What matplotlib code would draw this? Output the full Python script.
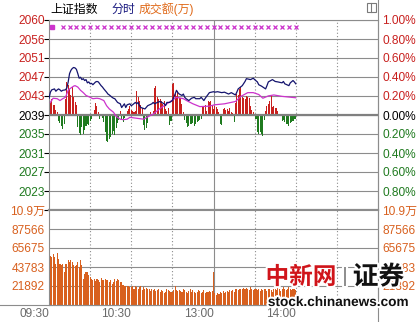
import matplotlib
matplotlib.use('Agg')
import matplotlib.pyplot as plt
import numpy as np
from matplotlib.lines import Line2D
from matplotlib.patches import Rectangle
import matplotlib.patheffects as pe

plt.rcParams['font.family'] = ['Liberation Sans', 'Noto Sans CJK SC', 'DejaVu Sans']

# ---------------- data ----------------
prev_close = 2039.3

price_min = [0, 1, 2, 4, 5, 6, 7, 8, 9, 10,
             12, 13, 14, 15, 16, 17, 18, 19, 20, 21,
             22, 23, 24, 25, 26, 27, 28, 29, 30, 31,
             32, 33, 34, 35, 36, 37, 38, 39, 40, 42,
             43, 44, 46, 47, 48, 49, 50, 52, 53, 54,
             55, 56, 57, 59, 60, 61, 63, 64, 65, 66,
             67, 70, 72, 75, 76, 77, 79, 81, 84, 85,
             86, 88, 90, 91, 92, 93, 94, 95, 97, 98,
             99, 100, 102, 104, 106, 107, 110, 111, 113, 114,
             117, 120, 121, 123, 126, 128, 131, 133, 136, 137,
             138, 141, 143, 144, 147, 149, 150, 152, 153, 155,
             158, 159, 160, 163, 165, 167, 170, 171, 172, 175,
             176, 178, 179, 180]
price_val = [2042.9, 2044.2, 2044.7, 2044.9, 2044.4, 2044.7, 2044.9, 2044.7, 2044.4, 2044.6,
             2044.7, 2045.1, 2046.4, 2048.2, 2048.9, 2049.3, 2049.5, 2049.4, 2049.1, 2048.2,
             2047.2, 2047.4, 2046.9, 2047.1, 2046.7, 2046.9, 2046.2, 2046.4, 2046.0, 2046.1,
             2045.8, 2046.1, 2046.4, 2046.5, 2046.4, 2046.0, 2045.6, 2045.3, 2044.9, 2044.2,
             2043.8, 2043.6, 2043.1, 2042.9, 2042.8, 2042.4, 2042.0, 2041.7, 2040.9, 2041.3,
             2041.7, 2040.9, 2041.5, 2041.7, 2041.3, 2041.5, 2042.0, 2041.7, 2042.0, 2041.3,
             2040.9, 2040.6, 2041.3, 2041.7, 2042.0, 2041.7, 2042.0, 2042.2, 2041.7, 2041.3,
             2042.0, 2042.0, 2042.4, 2043.1, 2043.8, 2044.6, 2044.1, 2043.8, 2043.5, 2043.8,
             2043.1, 2042.8, 2042.4, 2042.9, 2043.1, 2042.8, 2042.8, 2043.1, 2042.4, 2042.9,
             2044.1, 2044.3, 2044.2, 2044.3, 2044.1, 2044.2, 2043.8, 2044.1, 2043.6, 2044.2,
             2044.9, 2045.6, 2046.5, 2047.1, 2046.9, 2047.2, 2046.9, 2046.4, 2045.8, 2045.5,
             2044.9, 2045.6, 2046.4, 2046.9, 2046.5, 2046.4, 2046.2, 2046.5, 2046.0, 2045.6,
             2046.2, 2046.7, 2046.4, 2046.0]

lead_min = [1, 3, 6, 8, 10, 12, 14, 15, 18, 19,
            21, 23, 25, 27, 30, 32, 35, 37, 40, 42,
            44, 47, 49, 52, 54, 57, 59, 64, 69, 72,
            76, 81, 86, 90, 93, 98, 101, 105, 110, 117,
            121, 128, 136, 140, 145, 149, 153, 156, 160, 164,
            170, 180]
lead_val = [2042.0, 2042.9, 2042.8, 2042.4, 2042.8, 2043.1, 2044.6, 2044.9, 2045.5, 2045.6,
            2045.3, 2044.6, 2044.1, 2043.5, 2043.1, 2042.8, 2042.9, 2042.8, 2042.4, 2041.3,
            2040.6, 2039.9, 2039.0, 2038.4, 2038.3, 2038.4, 2038.8, 2038.6, 2038.4, 2038.9,
            2039.5, 2040.7, 2041.7, 2042.5, 2043.1, 2042.8, 2042.3, 2041.7, 2041.1, 2041.2,
            2041.5, 2041.7, 2042.2, 2043.3, 2044.1, 2044.1, 2043.7, 2042.9, 2043.4, 2043.6,
            2043.3, 2043.0]

# buy/sell strength per minute (arbitrary units)
strength = [10, 12, 16, 10, 10, 5, 3, -6, -8, -11,
            -14, -9, 16, 33, 30, 26, 20, 28, 18, 13,
            10, -12, -18, -20, -12, -19, -15, -11, -9, -10,
            -6, -4, 0, 5, 12, 9, 3, -4, 0, -3,
            -7, -17, -26, -27, -24, -22, -19, -16, -20, -13,
            -8, -5, 4, -4, -7, -3, 0, 4, 6, 9,
            5, 4, 3, 4, 24, 18, 14, 10, 7, -10,
            -15, -13, -8, 0, 3, 0, 4, 27, 29, 18,
            16, 16, 14, 11, 14, 6, 4, 7, -10, -6,
            31, 32, 21, 19, 24, 17, 17, 11, 3, -5,
            -8, -12, -11, -9, -9, -8, -11, -9, -7, -6,
            -5, -4, 9, 8, 10, 4, 14, 13, 14, 10,
            6, 9, 8, 6, 3, -9, -10, 6, 7, 5,
            6, 4, 7, 3, 2, -7, 12, 21, 20, 26,
            28, 18, 17, 16, 19, 18, 17, 9, 5, 3,
            0, -4, -17, -19, -17, -19, -21, -5, 4, 9,
            11, 14, 19, 8, 9, 7, 7, 4, 0, 0,
            -6, -5, -7, -9, -9, -11, -8, -7, -6, -4, -4]

volume = [100900, 55960, 55200, 59000, 55200, 47600, 59800, 53300, 47600, 45700,
          47600, 38100, 47600, 46800, 51400, 49500, 51400, 49500, 45700, 44500,
          45700, 49500, 43800, 51400, 45700, 30500, 36200, 38100, 38100, 34300,
          32400, 30500, 29300, 30500, 27800, 30500, 29300, 26600, 31200, 29300,
          28600, 30500, 28600, 29300, 26600, 28600, 24700, 26600, 30500, 27800,
          30500, 28600, 26600, 26600, 22800, 21700, 21700, 21700, 21700, 20900,
          20200, 21700, 19000, 21700, 20200, 19000, 20900, 21700, 17100, 20200,
          18700, 19800, 17900, 19000, 16400, 17900, 17100, 17900, 16000, 17100,
          17900, 15200, 17100, 16400, 14100, 15200, 17900, 17100, 16000, 14900,
          15200, 17100, 21700, 17100, 16000, 17100, 16400, 15200, 17900, 17100,
          15200, 13300, 16000, 17900, 15200, 17100, 14500, 13300, 15200, 17100,
          16000, 14100, 15200, 17100, 14100, 14900, 15200, 15600, 15200, 16400,
          38100, 13300, 11400, 14100, 12600, 15200, 13300, 16000, 14100, 15200,
          16400, 14900, 17100, 15600, 17100, 15200, 17900, 18700, 17100, 19000,
          17900, 18700, 19400, 17900, 19800, 18700, 17100, 20200, 18700, 17100,
          19000, 18300, 17100, 17900, 16400, 18700, 17100, 19000, 17900, 16400,
          19000, 17900, 17100, 15200, 17900, 18700, 17100, 19400, 17900, 16400,
          18700, 20200, 17900, 17100, 18700, 20200, 17900, 17100, 18700, 17900, 17100]

marker_min = list(range(10, 181, 5))

pct_levels = [1.0, 0.8, 0.6, 0.4, 0.2, 0.0, -0.2, -0.4, -0.6, -0.8]
price_labels = ['2060', '2056', '2051', '2047', '2043', '2039', '2035', '2031', '2027', '2023']
pct_labels = ['1.00%', '0.80%', '0.60%', '0.40%', '0.20%', '0.00%', '0.20%', '0.40%', '0.60%', '0.80%']

vol_max = 109458
vol_ticks = [21892, 43783, 65675, 87566, 109458]
vol_labels = ['21892', '43783', '65675', '87566', '10.9万']

time_ticks = [0, 60, 120, 180]
time_labels = ['09:30', '10:30', '13:00', '14:00']
grid_minutes = [30, 60, 90, 150, 180, 210]
noon_minute = 120

# ---------------- style ----------------
W, H = 420, 322
RED = '#C8201E'
GREEN = '#1F7A1F'
ORANGE = '#D8601E'
GRID = '#8C8C8C'
FS = 8.6

fig = plt.figure(figsize=(W / 100, H / 100), dpi=100)
fig.patch.set_facecolor('white')

L, R = 49, 378
ax_s = fig.add_axes([L / W, 1 - 210 / H, (R - L) / W, 190 / H])
ax_v = fig.add_axes([L / W, 1 - 305 / H, (R - L) / W, 95 / H])

minutes = np.arange(len(strength))

for ax in (ax_s, ax_v):
    ax.set_xlim(0, 240)
    for m in grid_minutes:
        ax.axvline(m, color=GRID, lw=0.8, ls=(0, (1, 2)), zorder=1)
    ax.axvline(noon_minute, color=GRID, lw=0.8, zorder=1)
    for sp in ax.spines.values():
        sp.set_color(GRID)
        sp.set_linewidth(0.8)

# strength panel (bottom layer of price area)
ax_s.set_ylim(-95, 95)
ax_s.set_yticks(np.arange(-95, 96, 19))
ax_s.yaxis.grid(True, color=GRID, lw=0.8)
ax_s.set_axisbelow(True)
ax_s.tick_params(left=False, bottom=False, labelleft=False, labelbottom=False)
ax_s.spines['bottom'].set_linewidth(1.6)
bar_colors = [RED if v > 0 else GREEN for v in strength]
ax_s.bar(minutes, strength, width=0.75, color=bar_colors, linewidth=0, zorder=2)
ax_s.axhline(0, color='#808080', lw=1.6, zorder=3)

# price axis on top
ax_p = ax_s.twinx()
ax_p.set_ylim(prev_close * 0.99, prev_close * 1.01)
ax_p.yaxis.tick_left()
price_ticks = [prev_close * (1 + p / 100) for p in pct_levels]
ax_p.set_yticks(price_ticks, labels=price_labels)
ax_p.tick_params(axis='y', length=0, pad=3.2, labelsize=FS)
for lbl, p in zip(ax_p.get_yticklabels(), pct_levels):
    lbl.set_color(RED if p > 0 else ('black' if p == 0 else GREEN))
for sp in ax_p.spines.values():
    sp.set_visible(False)
ax_p.plot(lead_min, lead_val, color='#CC33CC', lw=0.9, zorder=4)
ax_p.plot(price_min, price_val, color='#14146E', lw=0.9, zorder=5)
xt = ax_p.get_xaxis_transform()
ax_p.plot(marker_min, [0.963] * len(marker_min), transform=xt, ls='none',
          marker='x', ms=3.0, mew=0.9, color='#CC33CC', clip_on=False)
ax_p.plot([2], [0.963], transform=xt, ls='none', marker='s', ms=2.4,
          color='#CC33CC', clip_on=False)

sec = ax_p.secondary_yaxis('right', functions=(lambda p: (p / prev_close - 1) * 100,
                                                lambda q: prev_close * (1 + q / 100)))
sec.set_yticks(pct_levels, labels=pct_labels)
sec.tick_params(length=0, pad=3.2, labelsize=FS)
for lbl, p in zip(sec.get_yticklabels(), pct_levels):
    lbl.set_color(RED if p > 0 else ('black' if p == 0 else GREEN))
sec.spines['right'].set_visible(False)

# volume panel
ax_v.set_ylim(0, vol_max)
ax_v.set_yticks(vol_ticks, labels=vol_labels)
ax_v.yaxis.grid(True, color=GRID, lw=0.8)
ax_v.set_axisbelow(True)
ax_v.spines['top'].set_visible(False)
ax_v.bar(minutes, volume, width=0.78, color=ORANGE, linewidth=0, zorder=2)
ax_v.tick_params(axis='y', length=0, pad=3.2, labelsize=FS, labelcolor=ORANGE,
                 labelright=True)
ax_v.set_xticks(time_ticks, labels=time_labels)
ax_v.tick_params(axis='x', length=0, pad=2.5, labelsize=FS, labelcolor='#6A6A6A')
for lbl in ax_v.get_xticklabels():
    lbl.set_ha('right')

# frame extensions
fig.add_artist(Line2D([R / W, R / W], [0, 1], transform=fig.transFigure, color=GRID, lw=0.8))
fig.add_artist(Line2D([0, R / W], [1 - 305 / H, 1 - 305 / H], transform=fig.transFigure,
                      color=GRID, lw=0.8))

# title
ty = 1 - 9.5 / H
fig.text(50.5 / W, ty, '上证指数', ha='left', va='center', fontsize=FS, color='black')
fig.text(111.5 / W, ty, '分时', ha='left', va='center', fontsize=FS, color='#1A1A80')
fig.text(139 / W, ty, '成交额(万)', ha='left', va='center', fontsize=FS, color='#E06A1A')

# small icon top right
fig.add_artist(Rectangle((366.7 / W, 1 - 11.7 / H), 9 / W, 9 / H, transform=fig.transFigure,
                         fill=False, ec='#7A7A7A', lw=0.8))
fig.add_artist(Line2D([371.2 / W, 371.2 / W], [1 - 11.7 / H, 1 - 2.7 / H],
                      transform=fig.transFigure, color='#7A7A7A', lw=0.8))

# watermark
halo = [pe.withStroke(linewidth=3, foreground='white')]
fig.text(301 / W, 1 - 277 / H, '中新网', ha='center', va='center', fontsize=17,
         fontweight='bold', color='#D0141A', family=['Noto Sans CJK SC'], path_effects=halo)
fig.text(345 / W, 1 - 277 / H, '|', ha='center', va='center', fontsize=14,
         color='#909090', path_effects=halo)
fig.text(378.5 / W, 1 - 277 / H, '证券', ha='center', va='center', fontsize=18.5,
         fontweight='bold', color='#111111', family=['Noto Sans CJK SC'], path_effects=halo)
fig.text(338 / W, 1 - 302 / H, 'stock.chinanews.com', ha='center', va='center',
         fontsize=9.8, fontweight='bold', color='#111111', path_effects=halo)

fig.savefig('out.png', dpi=100, facecolor='white')
